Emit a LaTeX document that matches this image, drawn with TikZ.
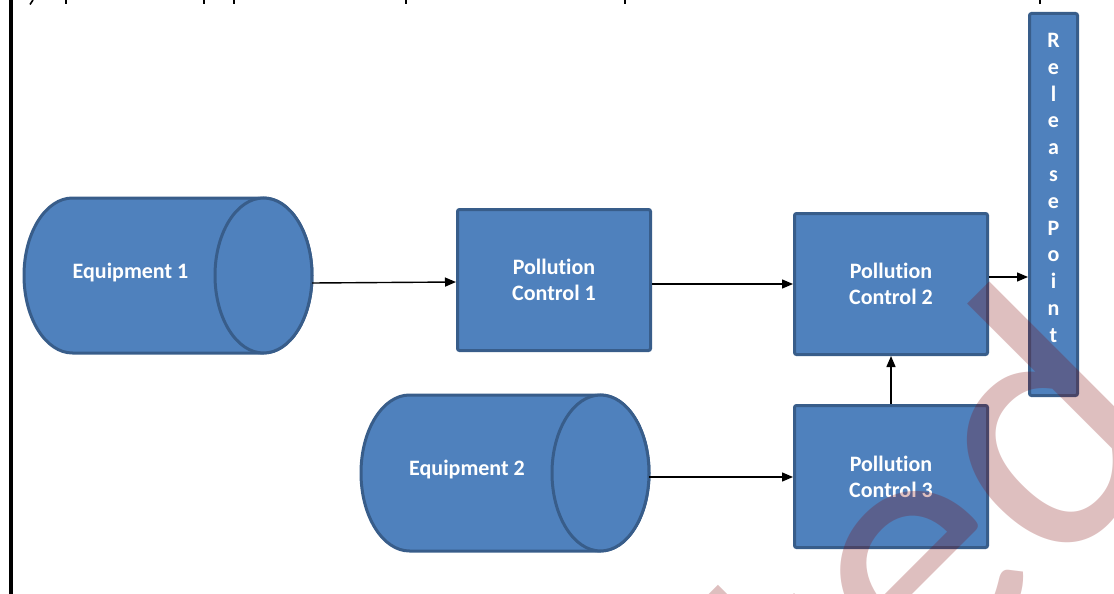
\documentclass[tikz,border=0pt]{standalone}
\usepackage{fontspec}
\setmainfont{Carlito}[Ligatures={NoCommon}]
\newfontfamily\wmfont{Carlito}[Ligatures={NoCommon}]
\usetikzlibrary{arrows.meta}
\definecolor{boxfill}{RGB}{79,129,189}
\definecolor{boxline}{RGB}{56,93,138}
\definecolor{wm}{RGB}{125,0,0}
\tikzset{
  blockbox/.style={draw=boxline, fill=boxfill, line width=3pt, rounded corners=2pt, inner sep=0pt},
  lbl/.style={text=white, font=\bfseries\fontsize{22}{26}\selectfont, align=center},
  arr/.style={line width=1.4pt, -{Triangle[length=11pt,width=9pt]}},
  cylfill/.style={draw=boxline, fill=boxfill, line width=3pt},
  holder/.style={inner sep=0pt, draw=none},
}
\begin{document}
\begin{tikzpicture}[x=1pt,y=-1pt]
\useasboundingbox (0,0) rectangle (1114,594);
% left rule and cut-off text fragments at the top
\fill (8.5,0) rectangle (13,594);
\draw[line width=1.6pt] (30,4.5) -- (33,0);
\foreach \xx in {66,204,234,406,625,1040}{\fill (\xx-1,0) rectangle (\xx+1,4.5);}

% Equipment 1 cylinder
\node[holder, minimum width=288pt, minimum height=155pt] (eq1) at (168,275.5) {};
\path[cylfill] (72.5,198) -- (263.5,198) arc[start angle=90,end angle=-90,x radius=48.5pt,y radius=77.5pt]
  -- (72.5,353) arc[start angle=270,end angle=90,x radius=48.5pt,y radius=77.5pt] -- cycle;
\draw[cylfill] (263.5,275.5) ellipse[x radius=48.5pt, y radius=77.5pt];
\node[lbl, anchor=base] (eq1t) at (130.5,278.5) {Equipment 1};

% Equipment 2 cylinder
\node[holder, minimum width=288pt, minimum height=156pt] (eq2) at (505,473) {};
\path[cylfill] (409.5,395) -- (600.5,395) arc[start angle=90,end angle=-90,x radius=48.5pt,y radius=78pt]
  -- (409.5,551) arc[start angle=270,end angle=90,x radius=48.5pt,y radius=78pt] -- cycle;
\draw[cylfill] (600.5,473) ellipse[x radius=48.5pt, y radius=78pt];
\node[lbl, anchor=base] (eq2t) at (467,475) {Equipment 2};

% Pollution control boxes
\node[blockbox, lbl, minimum width=193pt, minimum height=141pt] (pc1) at (554,280) {Pollution\\Control 1};
\node[blockbox, lbl, minimum width=193pt, minimum height=141pt] (pc2) at (891,284) {Pollution\\Control 2};
\node[blockbox, lbl, minimum width=193pt, minimum height=142pt] (pc3) at (891,476.5) {Pollution\\Control 3};

% Release point
\node[blockbox, minimum width=48pt, minimum height=382pt] (rel) at (1053.5,204.5) {};
\node[lbl, anchor=north, inner sep=0pt, font=\bfseries\fontsize{22}{26.8}\selectfont] (relt) at (1053.5,33)
  {R\\e\\l\\e\\a\\s\\e\\P\\o\\i\\n\\t};

% connectors
\coordinate (a1) at ([yshift=-7.5pt]eq1.east);
\draw[arr] (a1) -- ([yshift=-2pt]pc1.west);
\coordinate (a2) at ([yshift=-4pt]pc1.east);
\draw[arr] (a2) -- (a2 -| pc2.west);
\coordinate (a3) at ([yshift=7pt]pc2.east);
\draw[arr] (a3) -- (a3 -| rel.west);
\draw[arr] (pc3.north) -- (pc2.south);
\coordinate (a4) at ([yshift=-4pt]eq2.east);
\draw[arr] (a4) -- (a4 -| pc3.west);

% watermark
\begin{scope}
\clip (0,0) rectangle (1114,594);
\node[rotate=45, anchor=base west, inner sep=0pt, text=wm, text opacity=0.25,
  font=\wmfont\fontsize{365}{380}\selectfont] (wmark) at (923,707) {\llap{t}ed};
\end{scope}
\end{tikzpicture}
\end{document}
